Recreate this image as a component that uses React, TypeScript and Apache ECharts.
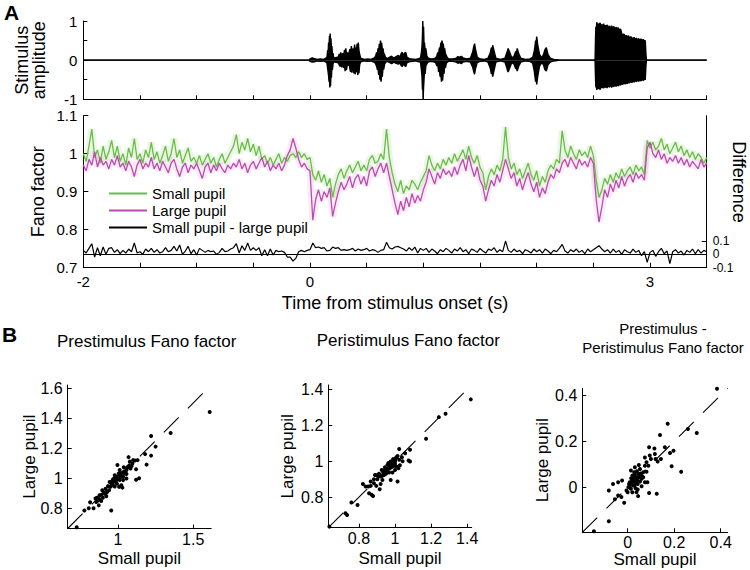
import React, { useEffect, useRef } from "react";
import * as echarts from "echarts";

// ---------- Panel A: time axis ----------
const T_START = -2;
const T_STEP = 0.025;
const timeTickLabels = [-2, 0, 3];
const fanoTicks = [0.7, 0.8, 0.9, 1, 1.1];
const diffOuterLabels = [-0.1, 0.1];
const diffZeroLabel = [0];
const ampTickLabels = [-1, 0, 1];

// Fano factor, small pupil (green), every 25 ms from -2 s
const smallPupil = [
  1.00,0.98,1.02,1.065,0.99,1.01,0.975,1.02,0.985,1.005,1.035,0.99,1.02,0.98,1.00,0.97,1.015,0.99,1.04,0.985,
  1.00,0.975,1.01,0.99,1.03,0.985,1.005,0.975,0.995,1.02,0.98,1.00,1.04,0.99,1.01,0.975,0.995,1.015,0.98,0.99,
  0.975,0.995,0.97,0.985,1.00,0.975,0.99,0.965,0.985,1.00,0.975,0.99,1.005,1.02,1.05,1.00,1.03,1.01,1.04,1.005,
  1.025,0.995,1.02,0.985,0.995,0.975,0.99,0.97,0.985,1.00,0.975,0.99,0.98,0.995,1.00,0.99,1.005,0.99,1.00,0.985,
  0.99,0.945,0.93,0.955,0.925,0.945,0.915,0.935,0.885,0.92,0.945,0.96,0.935,0.955,0.97,0.95,0.965,0.98,0.955,0.97,
  0.955,0.985,0.995,0.975,0.98,1.00,0.985,1.065,0.99,0.95,0.92,0.9,0.93,0.895,0.915,0.905,0.93,0.92,0.905,0.925,
  0.94,0.955,0.995,0.97,0.955,0.975,0.96,0.985,0.97,0.99,0.975,1.00,0.98,0.995,1.01,0.985,1.02,0.99,0.975,0.995,
  0.965,0.95,0.905,0.94,0.96,0.945,0.97,0.955,0.985,1.07,0.99,0.96,0.975,0.945,0.96,0.935,0.955,0.975,0.945,0.93,
  0.955,0.915,0.94,0.925,0.955,0.97,0.96,0.985,0.975,1.06,1.01,0.99,1.02,1.00,0.985,1.01,0.995,1.005,0.99,1.02,
  0.995,0.93,0.885,0.905,0.935,0.92,0.945,0.925,0.95,0.935,0.96,0.94,0.955,0.965,0.945,0.97,0.955,0.965,0.945,1.035,
  1.015,1.03,1.01,1.02,1.04,1.01,1.025,1.00,1.015,1.03,1.005,1.02,0.995,1.01,0.99,1.005,0.985,1.00,0.99,0.975,0.99,
];

// Fano factor, large pupil (magenta)
const largePupil = [
  0.97,0.955,0.985,0.97,1.005,0.965,0.99,0.97,0.98,0.96,0.985,0.97,0.995,0.965,0.975,0.955,0.98,0.965,0.94,0.97,
  0.985,0.96,0.975,0.965,0.99,0.96,0.975,0.955,0.98,0.965,0.95,0.975,0.985,0.96,0.94,0.965,0.975,0.95,0.97,0.96,
  0.975,0.955,0.935,0.965,0.975,0.95,0.97,0.955,0.975,0.96,0.95,0.97,0.96,0.975,0.965,0.985,0.96,0.975,0.95,0.97,
  0.98,0.96,0.975,0.99,0.965,0.98,0.955,0.97,0.96,0.975,0.955,0.97,0.995,1.01,1.04,1.015,0.985,0.965,0.975,0.96,
  0.955,0.825,0.88,0.905,0.875,0.9,0.885,0.91,0.835,0.87,0.9,0.925,0.905,0.92,0.94,0.91,0.935,0.945,0.92,0.94,
  0.915,0.955,0.965,0.94,0.96,0.975,0.95,0.975,0.94,0.905,0.87,0.84,0.875,0.85,0.885,0.86,0.895,0.87,0.89,0.875,
  0.905,0.925,0.96,0.94,0.92,0.95,0.935,0.96,0.945,0.955,0.94,0.965,0.945,0.97,0.985,0.955,0.995,0.965,0.94,0.965,
  0.93,0.915,0.875,0.905,0.93,0.915,0.945,0.925,0.955,0.985,0.96,0.935,0.95,0.915,0.935,0.905,0.93,0.95,0.92,0.9,
  0.925,0.885,0.91,0.895,0.925,0.945,0.935,0.96,0.95,0.975,0.985,0.965,0.99,0.975,0.96,0.985,0.97,0.98,0.965,0.99,
  0.975,0.88,0.82,0.86,0.905,0.885,0.92,0.9,0.93,0.91,0.94,0.915,0.935,0.945,0.925,0.95,0.935,0.945,0.93,1.015,
  1.03,1.0,0.99,1.01,0.985,1.0,0.975,0.99,0.98,0.995,0.975,0.99,0.97,0.985,0.965,0.98,0.97,0.96,0.985,0.965,0.975,
];

// Small pupil - large pupil (right axis)
const pupilDiff = [
  0.03,0.01,0.045,0.08,-0.02,0.05,-0.01,0.055,0.0,0.045,0.05,0.015,0.035,0.005,0.03,0.01,0.04,0.02,0.085,0.01,
  0.02,0.0,0.04,0.02,0.045,0.015,0.035,0.01,0.02,0.05,0.02,0.03,0.06,0.025,0.07,0.0,0.025,0.06,0.005,0.035,
  -0.005,0.045,0.03,0.015,0.03,0.02,0.025,0.0,0.015,0.045,0.02,0.025,0.04,0.05,0.08,0.01,0.065,0.03,0.085,0.03,
  0.05,0.03,0.05,-0.01,0.035,-0.01,0.04,-0.005,0.03,0.02,0.025,0.015,-0.02,-0.02,-0.05,-0.03,0.02,0.03,0.02,0.03,
  0.035,0.085,0.05,0.055,0.045,0.05,0.025,0.03,0.055,0.045,0.05,0.03,0.035,0.03,0.035,0.045,0.025,0.04,0.03,0.035,
  0.045,0.025,0.035,0.03,0.015,0.03,0.035,0.09,0.05,0.04,0.055,0.06,0.05,0.04,0.025,0.05,0.03,0.055,0.01,0.045,
  0.03,0.045,0.015,0.04,0.025,0.005,0.035,0.02,0.045,0.03,0.01,0.04,0.025,0.05,0.02,0.035,0.005,0.04,0.03,0.015,
  0.045,0.025,0.01,0.04,0.03,0.05,0.015,0.035,0.02,0.1,0.03,0.015,0.04,0.02,0.03,0.005,0.035,0.025,0.01,0.04,
  0.02,0.035,0.01,0.04,0.025,0.005,0.03,0.02,0.045,0.075,0.025,0.01,0.035,0.02,0.04,0.015,0.03,0.005,0.04,0.02,
  0.035,0.05,0.065,0.04,0.02,0.035,0.01,0.04,0.015,0.03,0.0,0.035,0.02,0.01,0.04,0.015,0.03,-0.01,0.02,-0.06,
  0.015,0.03,-0.015,0.02,0.045,0.005,0.025,-0.07,0.02,0.035,0.01,0.025,-0.005,0.03,0.015,0.04,0.005,0.035,0.01,0.03,0.02,
];

// Stimulus waveform envelope [time s, amplitude]
const waveUpper = [
  [-2,0],[-0.01,0],[0.0,0.03],[0.02,0.06],[0.04,0.04],[0.06,0.02],[0.09,0.03],[0.12,0.02],[0.14,0.05],
  [0.15,0.08],[0.156,0.25],[0.16,0.18],[0.164,0.45],[0.168,0.38],[0.172,0.62],[0.175,0.5],[0.178,0.68],[0.181,0.48],[0.185,0.56],[0.189,0.3],[0.193,0.36],[0.198,0.15],[0.203,0.18],[0.21,0.05],
  [0.25,0.08],[0.258,0.16],[0.265,0.1],[0.272,0.2],[0.28,0.08],[0.29,0.18],[0.297,0.12],[0.305,0.26],[0.31,0.18],[0.316,0.3],[0.322,0.14],[0.33,0.2],[0.338,0.08],[0.345,0.2],[0.352,0.28],[0.358,0.2],[0.365,0.36],[0.37,0.25],[0.376,0.16],[0.382,0.3],[0.388,0.24],[0.394,0.4],[0.399,0.2],[0.405,0.32],[0.41,0.26],[0.416,0.42],[0.421,0.32],[0.426,0.45],[0.432,0.25],[0.438,0.15],[0.447,0.05],
  [0.48,0.02],[0.51,0.03],[0.54,0.02],[0.56,0.05],
  [0.57,0.06],[0.58,0.12],[0.588,0.2],[0.595,0.15],[0.6,0.3],[0.606,0.25],[0.612,0.42],[0.617,0.36],[0.622,0.5],[0.627,0.4],[0.632,0.44],[0.638,0.28],[0.644,0.3],[0.65,0.18],[0.658,0.14],[0.667,0.07],[0.68,0.04],
  [0.7,0.07],[0.72,0.1],[0.74,0.05],[0.76,0.09],[0.78,0.12],[0.795,0.08],[0.805,0.17],[0.815,0.2],[0.825,0.1],[0.835,0.18],[0.845,0.2],[0.855,0.08],[0.875,0.04],[0.9,0.03],[0.93,0.02],[0.96,0.04],
  [0.975,0.06],[0.983,0.2],[0.988,0.35],[0.992,0.6],[0.995,1.0],[0.998,0.7],[1.002,0.85],[1.006,0.4],[1.01,0.45],[1.016,0.25],[1.022,0.3],[1.03,0.12],[1.04,0.06],
  [1.065,0.03],[1.09,0.04],
  [1.11,0.06],[1.12,0.12],[1.128,0.2],[1.135,0.16],[1.142,0.32],[1.148,0.28],[1.155,0.45],[1.16,0.38],[1.165,0.5],[1.17,0.4],[1.176,0.42],[1.182,0.26],[1.188,0.3],[1.195,0.16],[1.203,0.12],[1.212,0.06],[1.225,0.03],
  [1.26,0.03],[1.29,0.05],[1.305,0.09],[1.32,0.07],[1.335,0.1],[1.35,0.06],[1.38,0.03],[1.415,0.05],[1.435,0.2],[1.445,0.35],[1.452,0.42],[1.46,0.28],[1.475,0.08],[1.5,0.03],[1.54,0.02],[1.57,0.05],[1.59,0.18],[1.6,0.32],[1.606,0.26],[1.612,0.38],[1.625,0.22],[1.64,0.05],[1.68,0.02],[1.72,0.05],[1.735,0.18],[1.742,0.24],[1.748,0.3],[1.762,0.2],[1.78,0.06],[1.8,0.1],[1.815,0.22],[1.822,0.18],[1.828,0.3],[1.842,0.16],[1.86,0.05],[1.9,0.02],[1.94,0.03],[1.965,0.07],[1.98,0.25],[1.986,0.38],[1.99,0.5],[1.995,0.42],[2.0,0.6],[2.01,0.38],[2.025,0.15],[2.045,0.06],[2.06,0.14],[2.072,0.26],[2.085,0.32],[2.1,0.14],[2.12,0.05],[2.15,0.02],[2.18,0.01],[2.2,0],
  [2.515,0],[2.519,0.55],[2.522,0.85],[2.526,0.75],[2.53,0.97],[2.535,0.88],[2.54,0.94],[2.547,0.86],[2.553,0.92],[2.56,0.95],[2.567,0.87],[2.575,0.91],[2.582,0.85],[2.59,0.93],[2.598,0.86],[2.605,0.89],[2.613,0.82],[2.62,0.9],[2.63,0.84],[2.64,0.87],[2.65,0.8],[2.66,0.88],[2.67,0.82],[2.68,0.86],[2.69,0.79],[2.7,0.84],[2.71,0.8],[2.72,0.83],[2.73,0.76],[2.74,0.8],[2.75,0.68],[2.76,0.64],[2.77,0.67],[2.78,0.6],[2.79,0.63],[2.8,0.6],[2.81,0.62],[2.82,0.56],[2.83,0.6],[2.84,0.57],[2.85,0.55],[2.86,0.58],[2.87,0.53],[2.88,0.56],[2.89,0.52],[2.9,0.55],[2.91,0.51],[2.92,0.54],[2.93,0.5],[2.94,0.53],[2.95,0.49],[2.958,0.5],[2.963,0.2],[2.968,0],
  [3.5,0],
];
const waveLower = [
  [-2,0],[-0.01,0],[0.0,-0.03],[0.02,-0.05],[0.04,-0.04],[0.06,-0.02],[0.09,-0.03],[0.12,-0.02],[0.14,-0.05],
  [0.15,-0.08],[0.156,-0.22],[0.16,-0.3],[0.164,-0.4],[0.168,-0.55],[0.172,-0.5],[0.175,-0.7],[0.178,-0.6],[0.181,-0.66],[0.185,-0.4],[0.189,-0.45],[0.193,-0.2],[0.198,-0.25],[0.203,-0.1],[0.21,-0.04],
  [0.25,-0.07],[0.258,-0.12],[0.265,-0.16],[0.272,-0.1],[0.28,-0.18],[0.29,-0.1],[0.297,-0.2],[0.305,-0.16],[0.31,-0.28],[0.316,-0.2],[0.322,-0.25],[0.33,-0.1],[0.338,-0.14],[0.345,-0.08],[0.352,-0.22],[0.358,-0.3],[0.365,-0.22],[0.37,-0.32],[0.376,-0.12],[0.382,-0.25],[0.388,-0.34],[0.394,-0.26],[0.399,-0.36],[0.405,-0.18],[0.41,-0.3],[0.416,-0.24],[0.421,-0.38],[0.426,-0.3],[0.432,-0.33],[0.438,-0.12],[0.447,-0.04],
  [0.48,-0.02],[0.51,-0.03],[0.54,-0.02],[0.56,-0.05],
  [0.57,-0.05],[0.58,-0.1],[0.588,-0.16],[0.595,-0.25],[0.6,-0.2],[0.606,-0.38],[0.612,-0.32],[0.617,-0.5],[0.622,-0.42],[0.627,-0.55],[0.632,-0.38],[0.638,-0.42],[0.644,-0.2],[0.65,-0.24],[0.658,-0.1],[0.667,-0.06],[0.68,-0.03],
  [0.7,-0.06],[0.72,-0.09],[0.74,-0.05],[0.76,-0.08],[0.78,-0.1],[0.795,-0.07],[0.805,-0.14],[0.815,-0.16],[0.825,-0.08],[0.835,-0.14],[0.845,-0.16],[0.855,-0.07],[0.875,-0.04],[0.9,-0.03],[0.93,-0.02],[0.96,-0.04],
  [0.975,-0.05],[0.983,-0.25],[0.988,-0.4],[0.992,-0.75],[0.995,-0.6],[0.998,-1.0],[1.002,-0.7],[1.006,-0.5],[1.01,-0.3],[1.016,-0.35],[1.022,-0.15],[1.03,-0.1],[1.04,-0.05],
  [1.065,-0.03],[1.09,-0.04],
  [1.11,-0.07],[1.12,-0.15],[1.128,-0.12],[1.135,-0.3],[1.142,-0.25],[1.148,-0.42],[1.155,-0.38],[1.16,-0.55],[1.165,-0.45],[1.17,-0.52],[1.176,-0.3],[1.182,-0.35],[1.188,-0.16],[1.195,-0.2],[1.203,-0.08],[1.212,-0.05],[1.225,-0.02],
  [1.26,-0.03],[1.29,-0.05],[1.305,-0.08],[1.32,-0.06],[1.335,-0.09],[1.35,-0.05],[1.38,-0.03],[1.415,-0.05],[1.435,-0.18],[1.445,-0.3],[1.452,-0.36],[1.46,-0.22],[1.475,-0.06],[1.5,-0.03],[1.54,-0.02],[1.57,-0.05],[1.59,-0.2],[1.6,-0.35],[1.606,-0.3],[1.612,-0.42],[1.625,-0.25],[1.64,-0.05],[1.68,-0.02],[1.72,-0.05],[1.735,-0.18],[1.742,-0.26],[1.748,-0.3],[1.762,-0.2],[1.78,-0.06],[1.8,-0.1],[1.815,-0.22],[1.822,-0.2],[1.828,-0.28],[1.842,-0.15],[1.86,-0.05],[1.9,-0.02],[1.94,-0.03],[1.965,-0.08],[1.98,-0.3],[1.986,-0.45],[1.99,-0.55],[1.995,-0.4],[2.0,-0.62],[2.01,-0.4],[2.025,-0.15],[2.045,-0.06],[2.06,-0.12],[2.072,-0.24],[2.085,-0.28],[2.1,-0.12],[2.12,-0.05],[2.15,-0.02],[2.18,-0.01],[2.2,0],
  [2.515,0],[2.519,-0.45],[2.522,-0.7],[2.526,-0.62],[2.53,-0.76],[2.535,-0.68],[2.54,-0.74],[2.547,-0.66],[2.553,-0.72],[2.56,-0.75],[2.567,-0.67],[2.575,-0.71],[2.582,-0.65],[2.59,-0.72],[2.598,-0.66],[2.605,-0.7],[2.613,-0.64],[2.62,-0.71],[2.63,-0.65],[2.64,-0.69],[2.65,-0.63],[2.66,-0.7],[2.67,-0.64],[2.68,-0.68],[2.69,-0.62],[2.7,-0.67],[2.71,-0.63],[2.72,-0.66],[2.73,-0.61],[2.74,-0.64],[2.75,-0.6],[2.76,-0.62],[2.77,-0.58],[2.78,-0.61],[2.79,-0.57],[2.8,-0.6],[2.81,-0.56],[2.82,-0.58],[2.83,-0.54],[2.84,-0.57],[2.85,-0.53],[2.86,-0.56],[2.87,-0.52],[2.88,-0.55],[2.89,-0.51],[2.9,-0.54],[2.91,-0.5],[2.92,-0.53],[2.93,-0.49],[2.94,-0.52],[2.95,-0.48],[2.958,-0.5],[2.963,-0.2],[2.968,0],
  [3.5,0],
];

// ---------- Panel B scatter data [small pupil, large pupil] ----------
const prestimulusFano = [
  [1.61,1.44],[1.35,1.30],[1.22,1.28],[1.25,1.21],[1.22,1.15],[1.19,1.09],[1.18,1.16],[1.14,1.00],[1.12,0.99],[1.12,1.06],[1.13,1.12],[1.10,1.12],[1.07,1.14],[0.955,0.785],[0.725,0.673],[0.776,0.785],[0.805,0.80],[0.837,0.80],[0.814,0.839],[0.85,0.864],[0.866,0.852],[0.877,0.886],[0.899,0.87],[0.917,0.897],[0.94,0.92],[0.917,0.93],[0.949,0.942],[0.962,0.969],[0.971,0.991],[0.989,1.009],[0.978,1.02],[0.996,1.087],[1.011,0.987],[1.022,0.953],[1.007,0.942],[1.034,1.009],[1.045,1.031],[1.056,1.054],[1.067,1.076],[1.083,1.065],[1.096,1.098],[1.029,0.937],[1.0,1.0],[0.984,0.975],[0.966,0.953],[0.928,0.908],[0.895,0.92],[0.855,0.841],[0.888,0.848],[0.91,0.897],[1.004,1.031],[1.018,1.02],[0.989,0.987],[0.966,0.991],[1.034,0.987],[1.056,0.998],[1.011,1.054],[1.038,1.072],[1.078,1.11],[1.112,1.117],[1.056,1.027],[0.955,0.964],[0.944,0.975],[0.978,0.944],[0.993,0.962],[0.933,0.947],[0.922,0.879],[0.872,0.819],[0.86,0.87],[0.875,0.862],[0.89,0.89],[0.905,0.905],[0.96,0.98],[0.975,1.0],[0.99,1.0],[1.005,1.01],[1.015,1.005],[1.025,1.035],[1.04,1.045],[1.05,1.04],[1.06,1.07],[1.075,1.085],[1.09,1.08],
];
const peristimulusFano = [
  [1.42,1.345],[1.28,1.265],[1.243,1.246],[1.172,1.125],[1.083,1.064],[1.023,1.068],[1.075,1.004],[1.083,0.999],[1.056,1.045],[1.038,1.023],[1.008,1.023],[1.014,0.887],[0.976,0.896],[0.986,0.937],[1.0,0.952],[0.967,0.961],[0.948,0.943],[0.939,0.924],[0.92,0.915],[0.911,0.93],[0.893,0.924],[0.883,0.9],[0.865,0.887],[0.852,0.859],[0.837,0.859],[0.822,0.874],[0.856,0.822],[0.87,0.813],[0.878,0.807],[0.896,0.863],[0.915,0.844],[0.92,0.874],[0.93,0.896],[0.958,0.98],[0.976,0.999],[0.989,1.012],[1.004,1.017],[1.023,1.008],[1.042,1.0],[1.019,0.961],[0.995,0.975],[0.967,0.937],[0.952,0.956],[0.934,0.937],[0.902,0.9],[0.883,0.878],[0.865,0.863],[0.889,0.924],[0.758,0.77],[0.792,0.757],[0.725,0.71],[0.734,0.701],[0.636,0.636],[0.986,0.99],[1.0,0.986],[0.976,0.967],[0.963,0.99],[0.944,0.967],[0.926,0.952],[0.907,0.915],[1.027,0.978],[1.008,0.971],[0.995,0.999],[1.014,1.03],[0.94,0.95],[0.955,0.955],[0.97,0.975],[0.98,0.985],[0.99,1.0],[1.0,1.0],[0.96,0.94],[0.93,0.92],[0.95,0.93],[0.985,0.97],[1.0,1.005],[0.97,0.96],
];
const fanoDifference = [
  [0.384,0.428],[0.297,0.236],[0.259,0.253],[0.172,0.276],[0.139,0.227],[0.197,0.159],[0.182,0.149],[0.189,0.092],[0.23,0.068],[0.092,0.174],[0.115,0.169],[0.12,0.123],[0.129,0.112],[0.143,0.123],[0.1,0.123],[0.089,0.094],[0.081,0.109],[0.074,0.13],[0.092,-0.024],[0.125,-0.028],[0.045,-0.038],[-0.081,-0.014],[-0.081,-0.147],[-0.145,-0.19],[-0.041,0.022],[-0.024,0.03],[-0.063,0.015],[-0.027,-0.042],[-0.041,-0.035],[-0.055,-0.052],[-0.015,-0.067],[0,-0.021],[0.009,0.022],[0.014,0.073],[0.02,0.051],[0.024,0.037],[0.031,0.022],[0.038,0.044],[0.045,0.058],[0.053,0.08],[0.06,0.037],[0.067,0.066],[0.003,0.001],[0.014,-0.006],[0.024,0.008],[0.034,-0.004],[0.043,0.015],[0.053,0.025],[0.06,0.005],[0.074,0.022],[0.085,0.022],[0.017,0.022],[0.006,0.015],[0.028,0.066],[0.048,0.097],[0.074,0.094],[0.081,0.068],[0.031,0.087],[-0.005,-0.014],[0.02,-0.021],[0.038,-0.021],[0.043,-0.009],[0.06,0.051],[0.067,0.044],[0.095,0.138],[0.117,0.145],[0.16,0.174],[0.01,0.01],[0.02,0.03],[0.03,0.01],[0.035,0.03],[0.04,0.04],[0.05,0.045],[0.055,0.06],[0.025,0.045],[0.015,0.04],[0.03,0.055],[0.04,0.07],[0.008,0.005],[0.045,0.028],
];

const scatterRanges = [
  [0.665, 1.62],
  [0.63, 1.425],
  [-0.195, 0.43],
];
const scatterTicks = [
  { x: [1, 1.5], y: [0.8, 1, 1.2, 1.4, 1.6] },
  { x: [0.8, 1, 1.2, 1.4], y: [0.8, 1, 1.2, 1.4] },
  { x: [0, 0.2, 0.4], y: [0, 0.2, 0.4] },
];
const scatterTitles = [
  "Prestimulus Fano factor",
  "Peristimulus Fano factor",
  "Prestimulus -\nPeristimulus Fano factor",
];

const FONT = "Liberation Sans, Arial, Helvetica, sans-serif";
const BLACK = "#000";
const GREEN = "#69BD45";
const MAGENTA = "#BC4AAF";
const DIFF_MIN = -0.1;
const DIFF_MAX = 1.04;

const toSeries = (vals: number[]) =>
  vals.map((v, i) => [+(T_START + i * T_STEP).toFixed(3), v]);

const lineStyle = { color: BLACK, width: 1 };

function scatterAxes(k: number, grid: number) {
  const [lo, hi] = scatterRanges[k];
  const t = scatterTicks[k];
  const xGap = [21, 22, 19][k];
  const xMargin = [3, 3, 2][k];
  const yGap = [30, 32, 31][k];
  const x = {
    gridIndex: grid, type: "value", min: lo, max: hi,
    axisLine: { show: true, onZero: false, lineStyle },
    axisTick: { show: true, inside: true, length: 4, customValues: t.x, lineStyle },
    axisLabel: { show: true, customValues: t.x, fontSize: 16, color: BLACK, margin: xMargin, fontFamily: FONT },
    splitLine: { show: false },
    name: "Small pupil", nameLocation: "middle", nameGap: xGap, nameMoveOverlap: false,
    nameTextStyle: { fontSize: 17, color: BLACK, fontFamily: FONT },
  };
  const y = {
    gridIndex: grid, type: "value", min: lo, max: hi,
    axisLine: { show: true, onZero: false, lineStyle },
    axisTick: { show: true, inside: true, length: 4, customValues: t.y, lineStyle },
    axisLabel: { show: true, customValues: t.y, fontSize: 16, color: BLACK, margin: 5, fontFamily: FONT },
    splitLine: { show: false },
    name: "Large pupil", nameLocation: "middle", nameGap: yGap, nameMoveOverlap: false,
    nameTextStyle: { fontSize: 17, color: BLACK, fontFamily: FONT },
  };
  return { x, y };
}

export default function App() {
  const ref = useRef<HTMLDivElement>(null);
  useEffect(() => {
    if (!ref.current) return;
    const chart = echarts.init(ref.current, null, { renderer: "svg" });
    const s1 = scatterAxes(0, 2);
    const s2 = scatterAxes(1, 3);
    const s3 = scatterAxes(2, 4);
    const scatterData = [prestimulusFano, peristimulusFano, fanoDifference];

    const option: any = {
      animation: false,
      backgroundColor: "#fff",
      textStyle: { fontFamily: FONT, color: BLACK },
      title: [
        { text: "A", left: 4, top: 2, padding: 0, textStyle: { fontSize: 21, fontWeight: "bold", color: BLACK, fontFamily: FONT } },
        { text: "B", left: 2, top: 324, padding: 0, textStyle: { fontSize: 21, fontWeight: "bold", color: BLACK, fontFamily: FONT } },
        { text: scatterTitles[0], left: 146.7, top: 332, padding: 0, textAlign: "center", textStyle: { fontSize: 17, lineHeight: 19, fontWeight: "normal", color: BLACK, fontFamily: FONT } },
        { text: scatterTitles[1], left: 408.3, top: 330.5, padding: 0, textAlign: "center", textStyle: { fontSize: 17, lineHeight: 19, fontWeight: "normal", color: BLACK, fontFamily: FONT } },
        { text: scatterTitles[2], left: 663, top: 319.5, padding: 0, textAlign: "center", textStyle: { fontSize: 15, lineHeight: 18.5, fontWeight: "normal", color: BLACK, fontFamily: FONT } },
      ],
      graphic: [
        {
          type: "text", x: 739, y: 182, rotation: -Math.PI / 2, silent: true,
          style: { text: "Difference", fontSize: 18, fontFamily: FONT, fill: BLACK, align: "center", verticalAlign: "middle" },
        },
      ],
      legend: {
        data: ["Small pupil", "Large pupil", "Small pupil - large pupil"],
        orient: "vertical",
        left: 104,
        top: 181,
        icon: "rect",
        itemWidth: 38,
        itemHeight: 2,
        itemGap: 2,
        selectedMode: false,
        textStyle: { fontSize: 15, color: BLACK, fontFamily: FONT },
      },
      grid: [
        { left: 83.3, top: 21, width: 623.4, height: 78.3, outerBoundsMode: "none" },
        { left: 83.3, top: 115.7, width: 623.4, height: 152, outerBoundsMode: "none" },
        { left: 67.7, top: 385, width: 143.5, height: 143.5, outerBoundsMode: "none" },
        { left: 328.3, top: 385, width: 143.4, height: 142.7, outerBoundsMode: "none" },
        { left: 582.3, top: 388.3, width: 145.4, height: 144, outerBoundsMode: "none" },
      ],
      xAxis: [
        {
          gridIndex: 0, type: "value", min: -2, max: 3.5, interval: 0.5,
          axisLine: { show: true, onZero: false, lineStyle },
          axisTick: { show: true, inside: true, length: 4, lineStyle },
          axisLabel: { show: false },
          splitLine: { show: false },
        },
        {
          gridIndex: 1, type: "value", min: -2, max: 3.5, interval: 0.5,
          axisLine: { show: true, onZero: false, lineStyle },
          axisTick: { show: true, inside: true, length: 5, lineStyle },
          axisLabel: { show: true, customValues: timeTickLabels, fontSize: 15, color: BLACK, margin: 6, fontFamily: FONT },
          splitLine: { show: false },
          name: "Time from stimulus onset (s)", nameLocation: "middle", nameGap: 26, nameMoveOverlap: false,
          nameTextStyle: { fontSize: 18, color: BLACK, fontFamily: FONT },
        },
        s1.x, s2.x, s3.x,
      ],
      yAxis: [
        {
          gridIndex: 0, type: "value", min: -1, max: 1, interval: 0.5,
          axisLine: { show: true, onZero: false, lineStyle },
          axisTick: { show: true, inside: true, length: 4, lineStyle },
          axisLabel: { show: true, customValues: ampTickLabels, fontSize: 15, color: BLACK, margin: 6, fontFamily: FONT },
          splitLine: { show: false },
          name: "Stimulus\namplitude", nameLocation: "middle", nameGap: 36, nameMoveOverlap: false,
          nameTextStyle: { fontSize: 18, lineHeight: 17, color: BLACK, fontFamily: FONT },
        },
        {
          gridIndex: 1, type: "value", min: 0.7, max: 1.1, interval: 0.1,
          axisLine: { show: true, onZero: false, lineStyle },
          axisTick: { show: true, inside: true, length: 5, customValues: fanoTicks, lineStyle },
          axisLabel: { show: true, customValues: fanoTicks, fontSize: 15, color: BLACK, margin: 6, fontFamily: FONT },
          splitLine: { show: false },
          name: "Fano factor", nameLocation: "middle", nameGap: 36, nameMoveOverlap: false,
          nameTextStyle: { fontSize: 18, color: BLACK, fontFamily: FONT },
        },
        {
          gridIndex: 1, type: "value", position: "right", min: DIFF_MIN, max: DIFF_MAX,
          axisLine: { show: true, onZero: false, lineStyle },
          axisTick: { show: true, inside: true, length: 5, customValues: [0.1], lineStyle },
          axisLabel: {
            show: true, customValues: diffOuterLabels, fontSize: 12, lineHeight: 11, color: BLACK, margin: 6,
            fontFamily: FONT, hideOverlap: false, showMinLabel: true, showMaxLabel: true,
          },
          splitLine: { show: false },
        },
        s1.y, s2.y, s3.y,
        {
          gridIndex: 1, type: "value", position: "right", min: DIFF_MIN, max: DIFF_MAX,
          axisLine: { show: false, onZero: false },
          axisTick: { show: false },
          axisLabel: {
            show: true, customValues: diffZeroLabel, fontSize: 12, lineHeight: 11, color: BLACK, margin: 6,
            fontFamily: FONT, hideOverlap: false,
          },
          splitLine: { show: false },
        },
      ],
      series: [
        {
          type: "line", name: "waveUpper", xAxisIndex: 0, yAxisIndex: 0, data: waveUpper,
          showSymbol: false, silent: true, lineStyle: { color: BLACK, width: 1.4 },
          areaStyle: { color: BLACK, opacity: 1 }, itemStyle: { color: BLACK },
        },
        {
          type: "line", name: "waveLower", xAxisIndex: 0, yAxisIndex: 0, data: waveLower,
          showSymbol: false, silent: true, lineStyle: { color: BLACK, width: 1.4 },
          areaStyle: { color: BLACK, opacity: 1 }, itemStyle: { color: BLACK },
        },
        {
          type: "line", name: "smallBand", xAxisIndex: 1, yAxisIndex: 1, data: toSeries(smallPupil),
          showSymbol: false, silent: true, z: 1, lineStyle: { color: "rgba(105,189,69,0.13)", width: 7 },
        },
        {
          type: "line", name: "largeBand", xAxisIndex: 1, yAxisIndex: 1, data: toSeries(largePupil),
          showSymbol: false, silent: true, z: 1, lineStyle: { color: "rgba(200,80,185,0.11)", width: 7 },
        },
        {
          type: "line", name: "Small pupil", xAxisIndex: 1, yAxisIndex: 1, data: toSeries(smallPupil),
          showSymbol: false, z: 3, color: GREEN, lineStyle: { color: GREEN, width: 1.3 }, itemStyle: { color: GREEN },
        },
        {
          type: "line", name: "Large pupil", xAxisIndex: 1, yAxisIndex: 1, data: toSeries(largePupil),
          showSymbol: false, z: 4, color: MAGENTA, lineStyle: { color: MAGENTA, width: 1.3 }, itemStyle: { color: MAGENTA },
        },
        {
          type: "line", name: "Small pupil - large pupil", xAxisIndex: 1, yAxisIndex: 2, data: toSeries(pupilDiff),
          showSymbol: false, z: 5, color: BLACK, lineStyle: { color: BLACK, width: 1.2 }, itemStyle: { color: BLACK },
          markLine: {
            silent: true, symbol: "none", label: { show: false },
            lineStyle: { color: BLACK, width: 1, type: "solid" },
            data: [{ yAxis: 0 }],
          },
        },
        ...[0, 1, 2].map((k) => ({
          type: "line", name: "diag" + k, xAxisIndex: 2 + k, yAxisIndex: 3 + k,
          data: [[scatterRanges[k][0], scatterRanges[k][0]], [scatterRanges[k][1], scatterRanges[k][1]]],
          showSymbol: false, silent: true, z: 2,
          lineStyle: { color: BLACK, width: 1.1, type: [21, 13] },
        })),
        ...[0, 1, 2].map((k) => ({
          type: "scatter", name: "points" + k, xAxisIndex: 2 + k, yAxisIndex: 3 + k,
          data: scatterData[k], symbol: "circle", symbolSize: 4, z: 3,
          itemStyle: { color: BLACK, opacity: 1 },
        })),
      ],
    };
    chart.setOption(option);
    return () => chart.dispose();
  }, []);
  return (
    <div
      ref={ref}
      style={{ position: "fixed", left: 0, top: 0, width: 750, height: 570, background: "#fff" }}
    />
  );
}
